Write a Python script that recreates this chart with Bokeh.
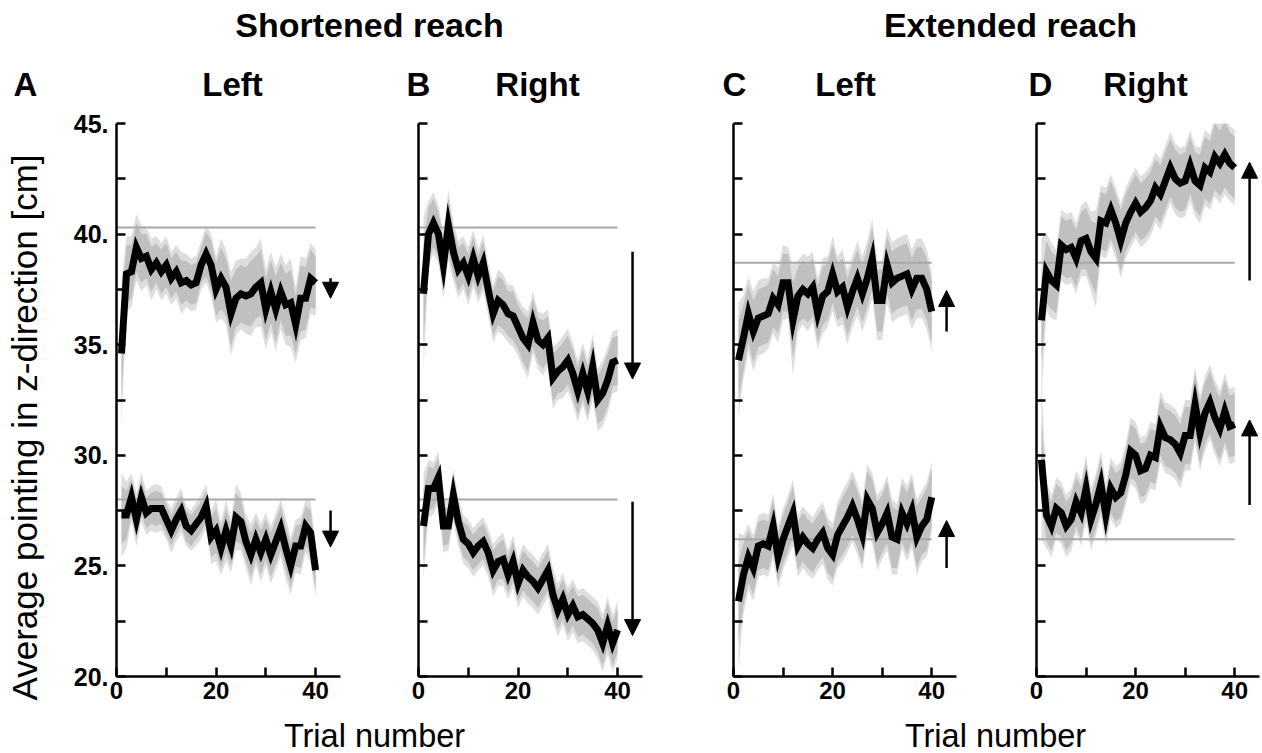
import math
from bokeh.plotting import figure
from bokeh.layouts import column, row
from bokeh.models import Range1d, FixedTicker, Label, Arrow, NormalHead
from bokeh.embed import file_html
from bokeh.resources import INLINE

# ---------------- data ----------------
trials = list(range(1, 41))
x_ticks = [0, 20, 40]
x_minor_ticks = [10, 30]
y_ticks = [20, 25, 30, 35, 40, 45]
y_minor_ticks = [22.5, 27.5, 32.5, 37.5, 42.5]
y_tick_labels = ["20.", "25.", "30.", "35.", "40.", "45."]

group_titles = ["Shortened reach", "Extended reach"]
panel_letters = ["A", "B", "C", "D"]
panel_titles = ["Left", "Right", "Left", "Right"]
x_title = "Trial number"
y_title = "Average pointing in z-direction [cm]"

# Panel A (shortened, left)
a_upper_mean = [34.6, 38.2, 38.3, 39.4, 38.9, 39.0, 38.4, 38.7, 38.3, 38.6, 38.0, 38.3, 37.8, 37.9, 37.7, 37.8,
                38.6, 39.1, 38.6, 37.5, 38.0, 37.6, 36.4, 37.1, 37.3, 37.2, 37.3, 37.6, 37.8, 36.6, 37.4, 36.6,
                37.4, 36.8, 36.9, 35.9, 37.1, 37.1, 38.0, 37.8]
a_upper_dark = [2.0, 1.3, 1.2, 1.1, 1.1, 1.0, 1.0, 0.9, 1.0, 1.0, 0.9, 0.9, 1.0, 0.9, 0.9, 0.9, 0.8, 1.0, 1.1, 1.2,
                1.4, 1.3, 1.5, 1.3, 1.3, 1.3, 1.5, 1.4, 1.5, 1.4, 1.4, 1.5, 1.3, 1.4, 1.5, 1.3, 1.5, 1.4, 1.3, 1.2]
a_upper_light = [3.3, 1.7, 1.6, 1.5, 1.5, 1.3, 1.4, 1.2, 1.3, 1.3, 1.2, 1.2, 1.4, 1.2, 1.2, 1.2, 1.1, 1.3, 1.4, 1.5,
                 1.8, 1.7, 1.9, 1.7, 1.6, 1.7, 1.9, 1.8, 2.0, 1.8, 1.8, 1.9, 1.7, 1.8, 2.0, 1.7, 1.9, 1.8, 1.6, 1.5]
a_lower_mean = [27.3, 27.3, 28.1, 27.1, 28.1, 27.4, 27.6, 27.6, 27.6, 27.1, 26.6, 27.1, 27.5, 26.8, 26.6, 26.9,
                27.2, 27.7, 26.3, 26.6, 25.8, 26.6, 25.9, 27.2, 27.0, 26.1, 25.5, 26.2, 25.6, 26.2, 25.5, 26.1,
                26.7, 25.8, 25.0, 25.9, 25.9, 26.8, 26.5, 24.8]
a_lower_dark = [1.3, 1.1, 0.8, 0.9, 0.8, 0.7, 0.7, 0.8, 0.7, 0.7, 0.7, 0.7, 0.7, 0.7, 0.7, 0.7, 0.7, 0.7, 0.9, 1.0,
                0.9, 1.0, 0.9, 1.1, 1.0, 0.9, 1.0, 0.9, 1.0, 0.9, 1.0, 1.0, 1.0, 1.0, 1.0, 0.9, 1.0, 0.9, 1.0, 0.9]
a_lower_light = [1.9, 1.5, 1.1, 1.2, 1.1, 1.0, 1.0, 1.1, 1.0, 0.9, 1.0, 1.0, 1.0, 0.9, 0.9, 1.0, 1.0, 1.0, 1.2, 1.4,
                 1.2, 1.4, 1.2, 1.5, 1.3, 1.2, 1.4, 1.2, 1.3, 1.2, 1.3, 1.3, 1.3, 1.4, 1.3, 1.2, 1.3, 1.2, 1.4, 1.2]

# Panel B (shortened, right)
b_upper_mean = [37.3, 40.0, 40.5, 40.0, 38.6, 40.4, 39.2, 38.4, 38.7, 38.1, 38.9, 38.1, 38.7, 37.5, 36.4, 37.0,
                36.8, 36.4, 36.3, 35.8, 35.3, 35.0, 36.0, 35.2, 35.0, 35.3, 33.5, 33.8, 34.0, 34.3, 33.7, 32.9,
                33.7, 32.9, 34.0, 32.5, 32.8, 33.4, 34.2, 34.3]
b_upper_dark = [2.2, 1.2, 1.1, 1.0, 1.1, 1.2, 1.0, 1.0, 0.9, 1.0, 1.0, 0.9, 1.0, 0.9, 1.0, 1.1, 1.1, 1.0, 1.1, 1.0,
                1.1, 1.2, 1.1, 1.0, 1.1, 1.0, 1.1, 1.0, 1.1, 1.1, 1.1, 1.1, 1.1, 1.1, 1.2, 1.1, 1.2, 1.2, 1.1, 1.1]
b_upper_light = [3.5, 1.5, 1.4, 1.3, 1.5, 1.6, 1.3, 1.3, 1.2, 1.3, 1.3, 1.2, 1.3, 1.2, 1.3, 1.4, 1.4, 1.3, 1.4, 1.3,
                 1.4, 1.5, 1.4, 1.3, 1.4, 1.3, 1.4, 1.3, 1.4, 1.4, 1.4, 1.4, 1.4, 1.4, 1.5, 1.4, 1.5, 1.5, 1.4, 1.4]
b_lower_mean = [26.8, 28.5, 28.5, 29.0, 26.8, 26.8, 28.2, 27.0, 26.2, 26.0, 25.6, 25.9, 26.1, 25.6, 24.8, 25.2,
                25.3, 24.6, 25.2, 24.2, 24.8, 24.5, 24.3, 24.0, 24.4, 24.8, 23.7, 23.0, 23.5, 22.8, 23.2, 22.7,
                22.8, 22.6, 22.4, 22.1, 21.5, 22.3, 21.5, 22.1]
b_lower_dark = [1.6, 1.0, 0.9, 0.9, 0.9, 0.8, 0.9, 0.8, 0.8, 0.8, 0.8, 0.8, 0.8, 0.8, 0.9, 0.8, 0.9, 0.8, 0.9, 0.8,
                0.9, 0.9, 0.9, 0.9, 0.9, 0.9, 0.9, 0.9, 0.9, 0.9, 0.9, 0.9, 0.9, 0.9, 0.9, 1.0, 1.0, 1.0, 1.0, 1.0]
b_lower_light = [2.4, 1.3, 1.2, 1.2, 1.2, 1.1, 1.2, 1.1, 1.1, 1.1, 1.1, 1.1, 1.1, 1.1, 1.2, 1.1, 1.2, 1.1, 1.2, 1.1,
                 1.2, 1.2, 1.2, 1.2, 1.2, 1.2, 1.2, 1.2, 1.2, 1.2, 1.2, 1.2, 1.2, 1.2, 1.2, 1.3, 1.3, 1.3, 1.3, 1.3]

# Panel C (extended, left)
c_upper_mean = [34.3, 35.3, 36.4, 35.6, 36.2, 36.3, 36.4, 37.1, 36.8, 37.8, 37.8, 36.1, 37.2, 37.5, 37.3, 37.6,
                36.4, 37.2, 37.4, 38.2, 37.4, 37.6, 36.7, 37.4, 38.0, 37.3, 38.0, 38.9, 37.0, 37.0, 38.6, 37.8,
                38.0, 38.1, 38.2, 37.5, 38.0, 38.0, 37.5, 36.5]
c_upper_dark = [1.8, 1.5, 1.3, 1.4, 1.3, 1.3, 1.3, 1.3, 1.3, 1.3, 1.3, 1.7, 1.3, 1.3, 1.3, 1.3, 1.3, 1.3, 1.3, 1.3,
                1.3, 1.3, 1.3, 1.3, 1.3, 1.3, 1.3, 1.4, 1.4, 1.4, 1.3, 1.4, 1.4, 1.4, 1.4, 1.4, 1.4, 1.4, 1.4, 1.4]
c_upper_light = [2.6, 1.9, 1.7, 1.8, 1.7, 1.7, 1.6, 1.6, 1.7, 1.7, 1.6, 2.5, 1.6, 1.6, 1.7, 1.6, 1.6, 1.7, 1.6, 1.7,
                 1.6, 1.7, 1.7, 1.6, 1.7, 1.7, 1.7, 1.8, 1.8, 1.8, 1.7, 1.8, 1.8, 1.8, 1.8, 1.8, 1.8, 1.8, 1.8, 1.8]
c_lower_mean = [23.4, 24.6, 25.4, 24.9, 25.9, 26.0, 25.9, 26.8, 25.4, 26.2, 26.8, 27.4, 25.9, 26.3, 26.0, 25.8,
                26.2, 26.5, 25.8, 25.5, 26.4, 26.8, 27.2, 27.7, 27.1, 26.4, 28.0, 27.6, 26.5, 26.9, 27.4, 26.3,
                26.2, 27.4, 26.9, 27.5, 26.3, 26.8, 27.1, 28.1]
c_lower_dark = [1.8, 1.4, 1.2, 1.2, 1.1, 1.1, 1.1, 1.2, 1.1, 1.1, 1.1, 1.2, 1.1, 1.1, 1.1, 1.1, 1.1, 1.1, 1.1, 1.1,
                1.2, 1.3, 1.3, 1.3, 1.3, 1.3, 1.3, 1.3, 1.4, 1.3, 1.4, 1.4, 1.3, 1.3, 1.4, 1.4, 1.4, 1.3, 1.4, 1.3]
c_lower_light = [3.1, 1.8, 1.5, 1.5, 1.4, 1.4, 1.4, 1.5, 1.4, 1.4, 1.4, 1.5, 1.4, 1.4, 1.4, 1.4, 1.4, 1.4, 1.4, 1.4,
                 1.5, 1.6, 1.6, 1.6, 1.6, 1.6, 1.6, 1.6, 1.7, 1.6, 1.7, 1.7, 1.6, 1.6, 1.7, 1.7, 1.7, 1.6, 1.7, 1.6]

# Panel D (extended, right)
d_upper_mean = [36.1, 38.3, 37.9, 37.7, 39.5, 39.3, 39.4, 38.9, 39.7, 39.8, 39.2, 38.9, 40.6, 40.5, 41.1, 40.5,
                39.7, 40.5, 41.0, 41.4, 41.0, 41.2, 41.5, 42.1, 41.8, 42.4, 43.0, 42.5, 42.3, 42.4, 43.1, 42.4,
                42.2, 43.0, 42.8, 43.5, 43.2, 43.6, 43.2, 43.0]
d_upper_dark = [1.9, 1.4, 1.3, 1.3, 1.3, 1.3, 1.3, 1.3, 1.3, 1.4, 1.4, 1.6, 1.3, 1.3, 1.3, 1.3, 1.4, 1.3, 1.3, 1.3,
                1.3, 1.3, 1.3, 1.3, 1.3, 1.3, 1.3, 1.3, 1.3, 1.3, 1.3, 1.3, 1.4, 1.4, 1.4, 1.5, 1.5, 1.5, 1.4, 1.4]
d_upper_light = [3.7, 1.8, 1.7, 1.6, 1.6, 1.6, 1.6, 1.6, 1.6, 1.7, 1.8, 2.2, 1.6, 1.6, 1.6, 1.6, 1.7, 1.6, 1.6, 1.6,
                 1.6, 1.6, 1.6, 1.6, 1.6, 1.6, 1.6, 1.6, 1.6, 1.6, 1.6, 1.6, 1.7, 1.7, 1.7, 1.8, 1.8, 1.8, 1.7, 1.7]
d_lower_mean = [29.8, 27.3, 26.8, 27.6, 27.4, 26.8, 27.1, 27.9, 27.4, 28.5, 27.1, 27.8, 28.7, 27.3, 28.5, 28.1,
                28.3, 29.1, 30.2, 30.0, 29.3, 29.4, 30.0, 29.9, 31.3, 30.8, 30.7, 30.5, 30.1, 30.9, 30.9, 32.3,
                31.0, 31.9, 32.4, 31.7, 31.2, 32.0, 31.3, 31.4]
d_lower_dark = [1.8, 1.2, 1.1, 1.1, 1.1, 1.1, 1.1, 1.1, 1.2, 1.2, 1.1, 1.1, 1.2, 1.1, 1.1, 1.1, 1.1, 1.1, 1.2, 1.2,
                1.2, 1.2, 1.2, 1.2, 1.3, 1.3, 1.3, 1.3, 1.3, 1.3, 1.3, 1.4, 1.4, 1.4, 1.4, 1.4, 1.4, 1.4, 1.4, 1.4]
d_lower_light = [3.6, 1.5, 1.4, 1.4, 1.4, 1.4, 1.4, 1.4, 1.5, 1.5, 1.4, 1.4, 1.5, 1.4, 1.4, 1.4, 1.4, 1.4, 1.5, 1.5,
                 1.5, 1.5, 1.5, 1.5, 1.6, 1.6, 1.6, 1.6, 1.6, 1.6, 1.6, 1.7, 1.7, 1.7, 1.7, 1.7, 1.7, 1.7, 1.7, 1.7]

reference_upper = [40.3, 40.3, 38.7, 38.7]
reference_lower = [28.0, 28.0, 26.2, 26.2]
arrow_upper_start = [38.0, 39.2, 35.6, 37.9]
arrow_upper_end = [37.1, 33.45, 37.45, 43.25]
arrow_lower_start = [27.5, 27.9, 24.9, 27.75]
arrow_lower_end = [25.85, 21.85, 27.05, 31.6]
arrow_trial = 43

series = [
    [(a_upper_mean, a_upper_dark, a_upper_light), (a_lower_mean, a_lower_dark, a_lower_light)],
    [(b_upper_mean, b_upper_dark, b_upper_light), (b_lower_mean, b_lower_dark, b_lower_light)],
    [(c_upper_mean, c_upper_dark, c_upper_light), (c_lower_mean, c_lower_dark, c_lower_light)],
    [(d_upper_mean, d_upper_dark, d_upper_light), (d_lower_mean, d_lower_dark, d_lower_light)],
]

# ---------------- style / layout ----------------
FONT = "Liberation Sans"
W = 1262
H = 753
TOP_H = 110
ROW_H = 608
BOT_H = H - TOP_H - ROW_H
YSTRIP_W = 50
LIGHT = "#dedede"
DARK = "#c0c0c0"
REF = "#a8a8a8"
TEXT_SHIFT = 13  # compensation between requested and drawn text baseline

# (width, border_left, border_right, border_top)
panel_geom = [(330, 66, 40, 13), (320, 38, 58, 13), (300, 33, 44, 6), (262, 36, 3, 6)]
FRAME_H = 560


def make_panel(i):
    width, bl, br, bt = panel_geom[i]
    p = figure(width=width, height=ROW_H, x_range=Range1d(0, 45), y_range=Range1d(20, 45),
               output_backend="svg", toolbar_location=None, title=None,
               min_border_left=bl, min_border_right=br, min_border_top=bt,
               min_border_bottom=ROW_H - bt - FRAME_H)
    p.grid.visible = False
    p.outline_line_color = None
    p.background_fill_color = "white"
    p.border_fill_color = "white"

    for mean, dark, light in series[i]:
        p.varea(x=trials, y1=[m - h for m, h in zip(mean, light)],
                y2=[m + h for m, h in zip(mean, light)], fill_color=LIGHT)
        p.varea(x=trials, y1=[m - h for m, h in zip(mean, dark)],
                y2=[m + h for m, h in zip(mean, dark)], fill_color=DARK)
    for ref in (reference_upper[i], reference_lower[i]):
        p.segment(x0=0, x1=trials[-1], y0=ref, y1=ref, line_color=REF, line_width=2)
    for mean, dark, light in series[i]:
        p.line(trials, mean, line_color="black", line_width=7, line_join="miter")

    for s, e in ((arrow_upper_start[i], arrow_upper_end[i]), (arrow_lower_start[i], arrow_lower_end[i])):
        p.add_layout(Arrow(end=NormalHead(size=16, fill_color="black", line_color="black", line_width=1),
                           x_start=arrow_trial, y_start=s, x_end=arrow_trial, y_end=e,
                           line_width=2.5, line_color="black"))

    xa = p.xaxis[0]
    ya = p.yaxis[0]
    xa.ticker = FixedTicker(ticks=x_ticks, minor_ticks=x_minor_ticks)
    if i == 0:
        ya.ticker = FixedTicker(ticks=y_ticks, minor_ticks=y_minor_ticks)
    else:
        # unlabeled axis: every tick drawn as a (label-free) minor tick
        ya.ticker = FixedTicker(ticks=[], minor_ticks=sorted(y_ticks + y_minor_ticks))
    for ax in (xa, ya):
        ax.axis_line_width = 2.5
        ax.axis_line_color = "black"
        ax.major_tick_in = 9
        ax.major_tick_out = 0
        ax.minor_tick_in = 9
        ax.minor_tick_out = 0
        ax.major_tick_line_width = 2.5
        ax.minor_tick_line_width = 2.5
        ax.major_tick_line_color = "black"
        ax.minor_tick_line_color = "black"
        ax.major_label_text_font = FONT
        ax.major_label_text_font_style = "bold"
        ax.major_label_text_font_size = "24px"
        ax.major_label_text_color = "black"
    xa.major_label_standoff = 5
    if i == 0:
        ya.major_label_overrides = {t: s for t, s in zip(y_ticks, y_tick_labels)}
        ya.major_label_standoff = 8
        ya.major_label_text_font_size = "25px"
    else:
        ya.major_label_standoff = 0
    return p


def strip(x0, width, height):
    # text-only figure whose data coordinates equal page pixels (x from x0, y downward)
    s = figure(width=width, height=height, x_range=Range1d(x0, x0 + width), y_range=Range1d(height, 0),
               x_axis_type=None, y_axis_type=None, output_backend="svg", toolbar_location=None,
               title=None, min_border=0)
    s.grid.visible = False
    s.outline_line_color = None
    return s


def bold_label(fig, x, y, txt, size, align):
    fig.add_layout(Label(x=x, y=y - TEXT_SHIFT, text=txt, text_align=align, text_baseline="alphabetic",
                         text_font=FONT, text_font_style="bold", text_font_size=size, text_color="black"))


# full-height left strip: letter "A" and the rotated y title
left = strip(0, YSTRIP_W, H)
bold_label(left, 13, 97, panel_letters[0], "33px", "left")
left.add_layout(Label(x=24, y=700, text=y_title, angle=math.pi / 2,
                      text_align="left", text_baseline="middle",
                      text_font=FONT, text_font_style="normal", text_font_size="35px",
                      text_color="black"))

RW = W - YSTRIP_W
top = strip(YSTRIP_W, RW, TOP_H)
for txt, cx in zip(group_titles, [369, 1010]):
    bold_label(top, cx, 37, txt, "34px", "center")
for txt, lx in zip(panel_letters[1:], [406, 722, 1028]):
    bold_label(top, lx, 97, txt, "33px", "left")
for txt, cx in zip(panel_titles, [232, 537, 845, 1145]):
    bold_label(top, cx, 97, txt, "33px", "center")

bottom = strip(YSTRIP_W, RW, BOT_H)
for cx in [374, 995]:
    bottom.add_layout(Label(x=cx, y=BOT_H - 5 - TEXT_SHIFT, text=x_title, text_align="center",
                            text_baseline="alphabetic", text_font=FONT, text_font_style="normal",
                            text_font_size="32.5px", text_color="black"))

panels = [make_panel(i) for i in range(4)]
layout = row(left, column(top, row(*panels), bottom))

open("out.html", "w").write(file_html(layout, INLINE))
